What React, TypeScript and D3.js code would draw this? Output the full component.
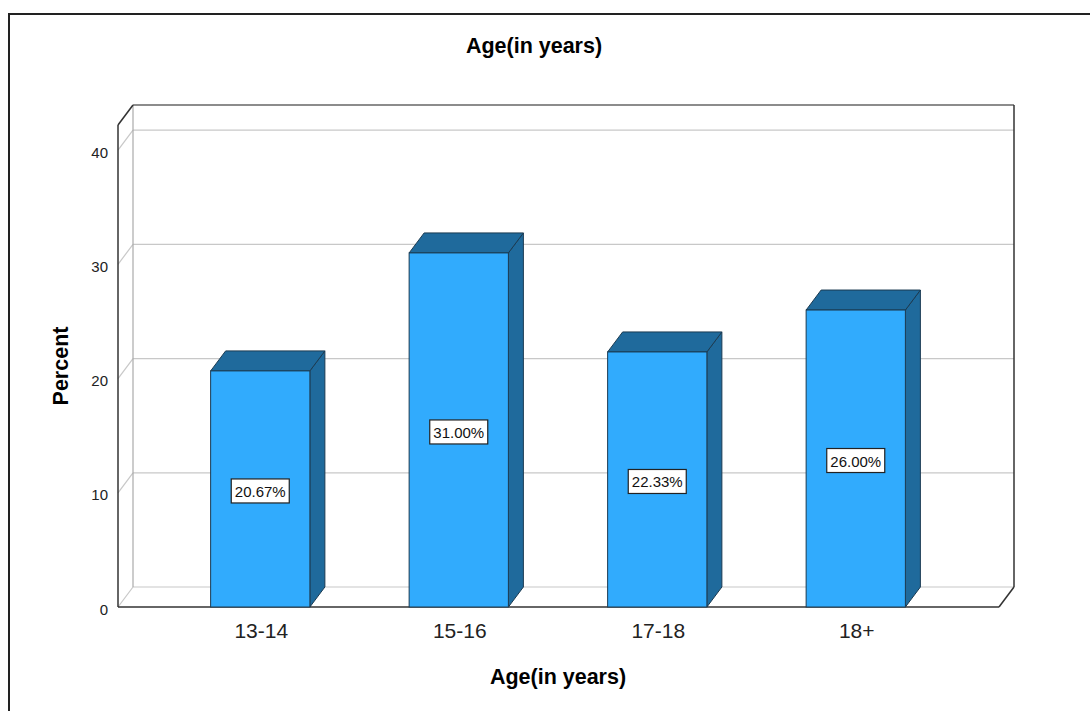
import * as d3 from "d3";

const categories = ["13-14", "15-16", "17-18", "18+"];
const percents = [20.67, 31.0, 22.33, 26.0];
const yTicks = [0, 10, 20, 30, 40];

const W = 1090;
const H = 711;
const DX = 15;
const DY = -20;
const font = "'Liberation Sans', Arial, sans-serif";

export default function App() {
  const y = d3.scaleLinear().domain([0, 42.2]).range([607, 125]);
  const x = d3.scaleBand().domain(categories).range([161, 955]).paddingInner(0.5).paddingOuter(0.25);
  const left = 118;
  const right = 999;
  const y0 = y(0);
  const yTop = y(42.2);

  const poly = (pts: [number, number][]) => pts.map((p) => p.join(",")).join(" ");

  return (
    <svg width={W} height={H} style={{ position: "absolute", left: 0, top: 0, background: "#fff" }}>
      <rect x={9} y={14} width={1200} height={800} fill="none" stroke="#222" strokeWidth={2} />

      <text x={534} y={53} textAnchor="middle" fontFamily={font} fontSize={21.5} fontWeight="bold">
        Age(in years)
      </text>

      {/* back wall */}
      <rect x={left + DX} y={yTop + DY} width={right - left} height={y0 - yTop} fill="#fff" stroke="none" />
      {/* gridlines on back wall and side wall */}
      {yTicks.map((t) => (
        <g key={t}>
          <line x1={left + DX} x2={right + DX} y1={y(t) + DY} y2={y(t) + DY} stroke="#c8c8c8" strokeWidth={1.2} />
          <line x1={left} x2={left + DX} y1={y(t)} y2={y(t) + DY} stroke="#c8c8c8" strokeWidth={1.2} />
        </g>
      ))}
      <line x1={left + DX} x2={left + DX} y1={yTop + DY} y2={y0 + DY} stroke="#aaa" strokeWidth={1.2} />
      <line x1={left + DX} x2={right + DX} y1={yTop + DY} y2={yTop + DY} stroke="#666" strokeWidth={1.5} />
      <line x1={right + DX} x2={right + DX} y1={yTop + DY} y2={y0 + DY} stroke="#333" strokeWidth={1.5} />
      {/* side wall outline */}
      <line x1={left} x2={left} y1={yTop} y2={y0} stroke="#333" strokeWidth={1.5} />
      <line x1={left} x2={left + DX} y1={yTop} y2={yTop + DY} stroke="#333" strokeWidth={1.5} />
      {/* floor */}
      <line x1={left} x2={right} y1={y0} y2={y0} stroke="#333" strokeWidth={1.6} />
      <line x1={right} x2={right + DX} y1={y0} y2={y0 + DY} stroke="#333" strokeWidth={1.5} />

      {/* y ticks */}
      {yTicks.map((t) => (
        <text key={t} x={108} y={y(t) + 7.5} textAnchor="end" fontFamily={font} fontSize={15} fill="#222">
          {t}
        </text>
      ))}

      {/* bars */}
      {categories.map((c, i) => {
        const x0 = x(c)!;
        const x1 = x0 + x.bandwidth();
        const yt = y(percents[i]);
        return (
          <g key={c} stroke="#1b3b52" strokeWidth={1}>
            <polygon points={poly([[x1, yt], [x1 + DX, yt + DY], [x1 + DX, y0 + DY], [x1, y0]])} fill="#1f6a9c" />
            <polygon points={poly([[x0, yt], [x0 + DX, yt + DY], [x1 + DX, yt + DY], [x1, yt]])} fill="#1f6a9c" />
            <rect x={x0} y={yt} width={x1 - x0} height={y0 - yt} fill="#31abfd" />
          </g>
        );
      })}

      {/* value labels */}
      {categories.map((c, i) => {
        const cx = x(c)! + x.bandwidth() / 2;
        const cy = y(percents[i] / 2) + 2;
        return (
          <g key={c}>
            <rect x={cx - 29} y={cy - 12} width={58} height={24} fill="#fff" stroke="#222" strokeWidth={1.2} />
            <text x={cx} y={cy + 6} textAnchor="middle" fontFamily={font} fontSize={15} fill="#111">
              {percents[i].toFixed(2)}%
            </text>
          </g>
        );
      })}

      {/* x labels */}
      {categories.map((c) => (
        <text key={c} x={x(c)! + x.bandwidth() / 2 + 1} y={638} textAnchor="middle" fontFamily={font} fontSize={21} fill="#222">
          {c}
        </text>
      ))}

      <text x={558} y={684} textAnchor="middle" fontFamily={font} fontSize={21.5} fontWeight="bold">
        Age(in years)
      </text>
      <text
        transform={`translate(68,366) rotate(-90)`}
        textAnchor="middle"
        fontFamily={font}
        fontSize={21.5}
        fontWeight="bold"
      >
        Percent
      </text>
    </svg>
  );
}
